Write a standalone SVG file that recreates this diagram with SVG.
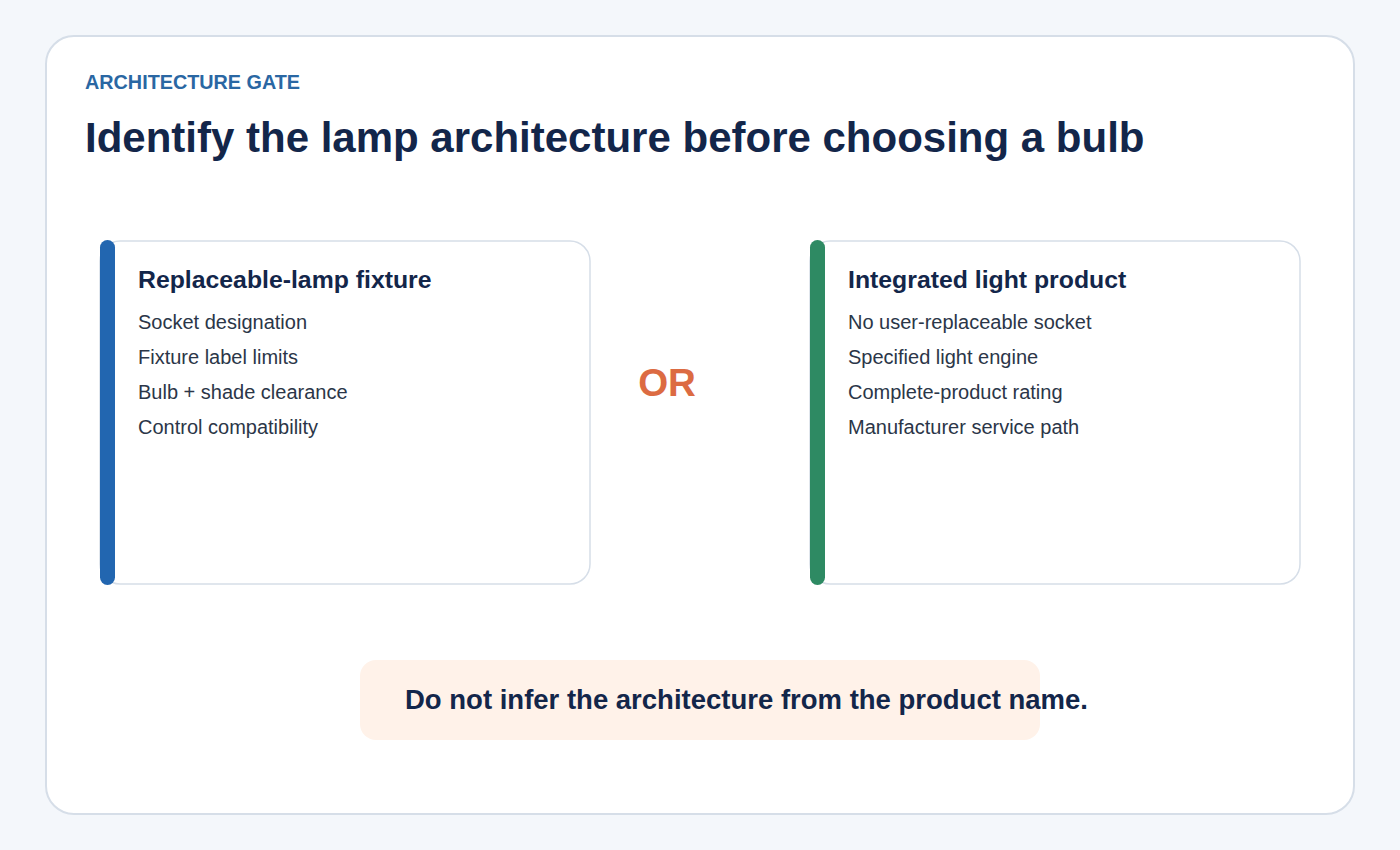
<svg xmlns="http://www.w3.org/2000/svg" width="1400" height="850" viewBox="0 0 1400 850">
<style>
.bg{fill:#f4f7fb}
.frame{fill:#ffffff;stroke:#d6dee8;stroke-width:2}
.card{fill:#ffffff;stroke:#d6dee8;stroke-width:1.5}
.kicker{font-family:"Liberation Sans",Arial,sans-serif;font-weight:bold;font-size:19.8px;fill:#2a67a3}
.title{font-family:"Liberation Sans",Arial,sans-serif;font-weight:bold;font-size:42px;fill:#13264a}
.ctitle{font-family:"Liberation Sans",Arial,sans-serif;font-weight:bold;font-size:24.8px;fill:#13264a}
.item{font-family:"Liberation Sans",Arial,sans-serif;font-size:20px;fill:#2b3648}
.or{font-family:"Liberation Sans",Arial,sans-serif;font-weight:bold;font-size:38.5px;fill:#dc6b42}
.note{font-family:"Liberation Sans",Arial,sans-serif;font-weight:bold;font-size:27.5px;fill:#13264a}
</style>
<rect class="bg" x="0" y="0" width="1400" height="850"/>
<rect class="frame" x="46" y="36" width="1308" height="778" rx="28"/>
<text class="kicker" x="85" y="89">ARCHITECTURE GATE</text>
<text class="title" x="85" y="152">Identify the lamp architecture before choosing a bulb</text>
<g id="node-replaceable">
<rect class="card" x="100" y="241" width="490" height="343" rx="20"/>
<rect x="100" y="240" width="15" height="345" rx="7.5" fill="#2266b0"/>
<text class="ctitle" x="138" y="288">Replaceable-lamp fixture</text>
<text class="item" x="138" y="329">Socket designation</text>
<text class="item" x="138" y="364">Fixture label limits</text>
<text class="item" x="138" y="399">Bulb + shade clearance</text>
<text class="item" x="138" y="434">Control compatibility</text>
</g>
<g id="node-or">
<text class="or" x="667" y="396" text-anchor="middle">OR</text>
</g>
<g id="node-integrated">
<rect class="card" x="810" y="241" width="490" height="343" rx="20"/>
<rect x="810" y="240" width="15" height="345" rx="7.5" fill="#2e8a63"/>
<text class="ctitle" x="848" y="288">Integrated light product</text>
<text class="item" x="848" y="329">No user-replaceable socket</text>
<text class="item" x="848" y="364">Specified light engine</text>
<text class="item" x="848" y="399">Complete-product rating</text>
<text class="item" x="848" y="434">Manufacturer service path</text>
</g>
<g id="node-note">
<rect x="360" y="660" width="680" height="80" rx="16" fill="#fff2e9"/>
<text class="note" x="405" y="709">Do not infer the architecture from the product name.</text>
</g>
<g id="connectors"></g>
</svg>
